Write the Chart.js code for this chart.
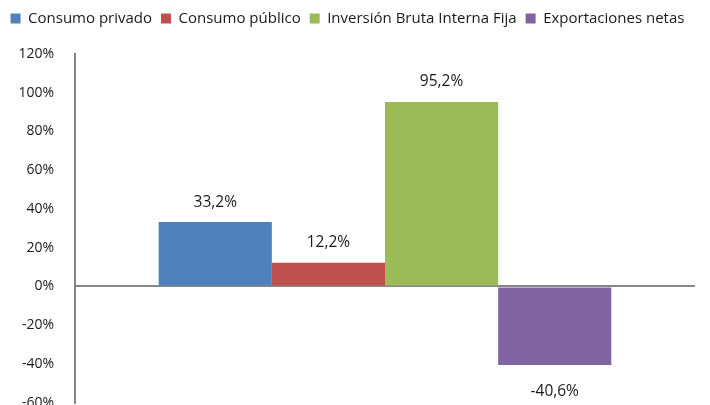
<!DOCTYPE html>
<html>
<head>
<meta charset="utf-8">
<script src="https://cdn.jsdelivr.net/npm/chart.js@4.4.1/dist/chart.umd.min.js"></script>
<style>
    html, body { margin: 0; padding: 0; background: #fff; overflow: hidden; }
    #wrap { width: 710px; height: 432px; }
</style>
</head>
<body>
<div id="wrap"><canvas id="aportes"></canvas></div>
<script>
const categories = [''];
const seriesNames = ['Consumo privado', 'Consumo público', 'Inversión Bruta Interna Fija', 'Exportaciones netas'];
const seriesValues = [33.2, 12.2, 95.2, -40.6];
const seriesColors = ['#4f81bd', '#c0504d', '#9bbb59', '#8064a2'];
const yTicks = [-60, -40, -20, 0, 20, 40, 60, 80, 100, 120];

const fontFamily = '"Open Sans", sans-serif';
const axisGray = '#868686';

// keep the legend on one row and leave a gap below it
const legendSpacer = {
    id: 'legendSpacer',
    beforeInit(chart) {
        const fit = chart.legend.fit;
        chart.legend.fit = function () {
            this.maxWidth = chart.width + 40;
            fit.call(this);
            this.height += 18;
        };
    },
};

// value labels above positive bars, below negative ones
const valueLabels = {
    id: 'valueLabels',
    afterDatasetsDraw(chart) {
        const ctx = chart.ctx;
        ctx.save();
        ctx.font = '15.5px ' + fontFamily;
        ctx.fillStyle = '#1a1a1a';
        ctx.textAlign = 'center';
        ctx.textBaseline = 'middle';
        chart.data.datasets.forEach((ds, i) => {
            const bar = chart.getDatasetMeta(i).data[0];
            const v = ds.data[0];
            const y = v >= 0 ? bar.y - 20 : bar.y + 27;
            ctx.fillText(v.toFixed(1).replace('.', ',') + '%', bar.x, y);
        });
        ctx.restore();
    },
};

new Chart(document.getElementById('aportes'), {
    type: 'bar',
    data: {
        labels: categories,
        datasets: seriesNames.map((name, i) => ({
            label: name,
            data: [seriesValues[i]],
            backgroundColor: seriesColors[i],
            borderWidth: 0,
            barPercentage: 1,
            categoryPercentage: 0.73,
        })),
    },
    options: {
        responsive: true,
        maintainAspectRatio: false,
        animation: false,
        layout: {
            padding: { left: 0, right: 15, top: 2, bottom: 6 },
        },
        plugins: {
            legend: {
                display: true,
                position: 'top',
                labels: {
                    font: { family: fontFamily, size: 15 },
                    color: '#1a1a1a',
                    boxWidth: 10,
                    boxHeight: 10,
                    padding: 9,
                },
            },
            tooltip: { enabled: false },
        },
        scales: {
            x: {
                display: false,
            },
            y: {
                min: yTicks[0],
                max: yTicks[yTicks.length - 1],
                afterBuildTicks(scale) {
                    scale.ticks = yTicks.map(v => ({ value: v }));
                },
                afterFit(scale) {
                    scale.width = 75;
                },
                border: { display: true, color: axisGray, width: 2 },
                grid: {
                    drawTicks: false,
                    lineWidth: 2,
                    color: ctx => (ctx.tick && ctx.tick.value === 0 ? axisGray : 'rgba(0,0,0,0)'),
                },
                ticks: {
                    padding: 21,
                    font: { family: fontFamily, size: 14 },
                    color: '#1a1a1a',
                    callback: v => v + '%',
                },
            },
        },
    },
    plugins: [legendSpacer, valueLabels],
});
</script>
</body>
</html>
